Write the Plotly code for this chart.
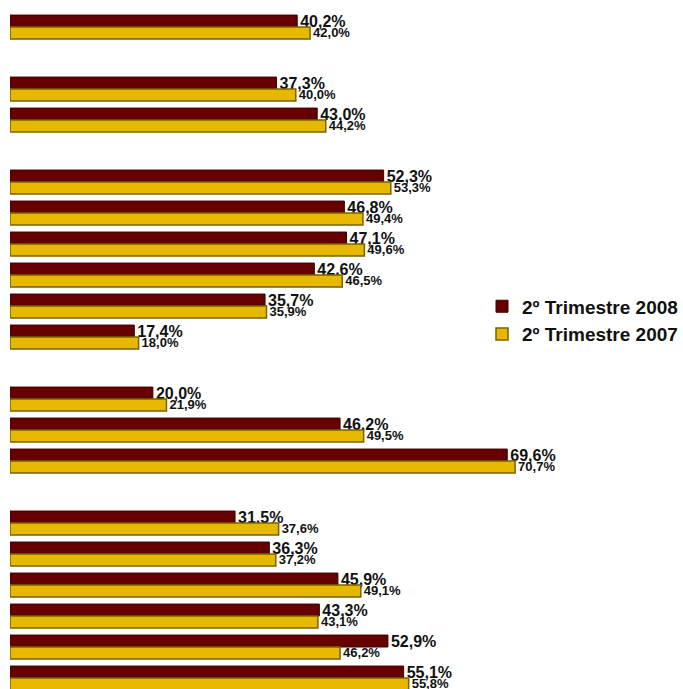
import plotly.graph_objects as go

# Values per group (percent), top to bottom
groups_2008 = [
    [40.2],
    [37.3, 43.0],
    [52.3, 46.8, 47.1, 42.6, 35.7, 17.4],
    [20.0, 46.2, 69.6],
    [31.5, 36.3, 45.9, 43.3, 52.9, 55.1],
]
groups_2007 = [
    [42.0],
    [40.0, 44.2],
    [53.3, 49.4, 49.6, 46.5, 35.9, 18.0],
    [21.9, 49.5, 70.7],
    [37.6, 37.2, 49.1, 43.1, 46.2, 55.8],
]
series_names = ["2º Trimestre 2008", "2º Trimestre 2007"]

# Build category slots (with empty separator slots between groups)
categories, v08, v07 = [], [], []
for g, (a, b) in enumerate(zip(groups_2008, groups_2007)):
    if g > 0:
        categories.append(f"sep{g}")
        v08.append(None)
        v07.append(None)
    for i, (x1, x2) in enumerate(zip(a, b)):
        categories.append(f"G{g+1}.{i+1}")
        v08.append(x1)
        v07.append(x2)


def fmt(v):
    return "" if v is None else f"{v:.1f}%".replace(".", ",")


FONT = "Liberation Sans, Arial, sans-serif"

fig = go.Figure()
fig.add_trace(go.Bar(
    y=categories, x=v08, orientation="h", name=series_names[0],
    marker=dict(color="#660000", line=dict(color="#3d0000", width=1)),
    text=[fmt(v) for v in v08], textposition="outside",
    textfont=dict(family=FONT, size=16, color="#111111", weight="bold"),
    constraintext="none", cliponaxis=False,
))
fig.add_trace(go.Bar(
    y=categories, x=v07, orientation="h", name=series_names[1],
    marker=dict(color="#E6B800", line=dict(color="#7a6200", width=1.5)),
    text=[fmt(v) for v in v07], textposition="outside",
    textfont=dict(family=FONT, size=13, color="#111111", weight="bold"),
    constraintext="none", cliponaxis=False,
))

n = len(categories)
fig.update_layout(
    width=683, height=689,
    margin=dict(l=10, r=29, t=0, b=0),
    barmode="group", bargap=0.23, bargroupgap=0,
    plot_bgcolor="white", paper_bgcolor="white",
    font=dict(family=FONT, color="#111111"),
    xaxis=dict(range=[0, 90], visible=False, fixedrange=True),
    yaxis=dict(
        type="category", categoryorder="array", categoryarray=categories,
        range=[n - 1 + 0.355, -0.871], visible=False,
    ),
    legend=dict(
        x=0.7345, y=0.535, xanchor="left", yanchor="middle",
        font=dict(family=FONT, size=19, color="#111111", weight="bold"),
        bgcolor="rgba(0,0,0,0)", tracegroupgap=0,
    ),
    showlegend=True,
)

fig.write_html(
    "out.html",
    config={"displayModeBar": False},
    post_script="document.body.style.margin='0';",
)
